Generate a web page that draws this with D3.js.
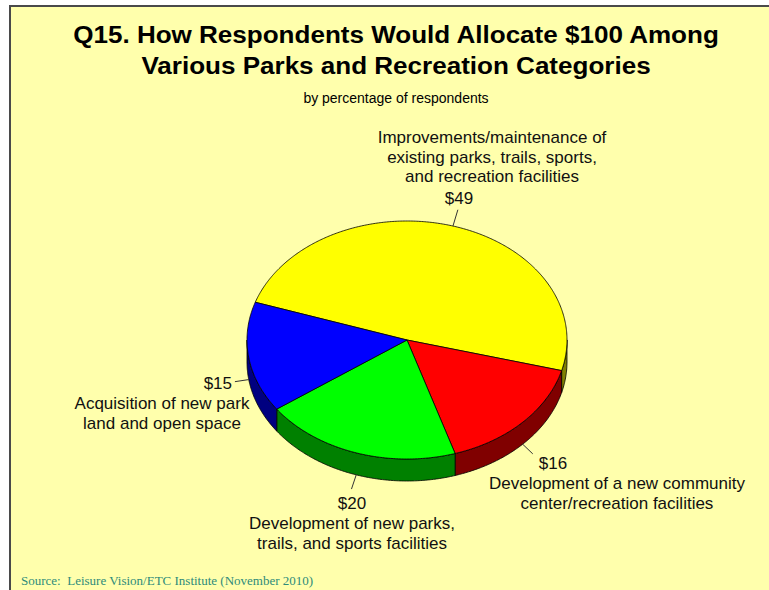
<!DOCTYPE html>
<html>
<head>
<meta charset="utf-8">
<script src="https://cdn.jsdelivr.net/npm/d3@7"></script>
<style>
  html, body { margin: 0; padding: 0; background: #ffffff; }
  svg { display: block; }
</style>
</head>
<body>
<svg id="chart" width="769" height="590"></svg>
<script>
// Allocation of a hypothetical $100 across four spending categories
const categories = [
  "Improvements/maintenance of existing parks, trails, sports, and recreation facilities",
  "Development of a new community center/recreation facilities",
  "Development of new parks, trails, and sports facilities",
  "Acquisition of new park land and open space"
];
const values = [49, 16, 20, 15];
const valueLabels = ["$49", "$16", "$20", "$15"];
const labelLines = [
  ["Improvements/maintenance of", "existing parks, trails, sports,", "and recreation facilities"],
  ["Development of a new community", "center/recreation facilities"],
  ["Development of new parks,", "trails, and sports facilities"],
  ["Acquisition of new park", "land and open space"]
];
const topColors  = ["#ffff00", "#ff0000", "#00ff00", "#0000ff"];
const sideColors = ["#808000", "#800000", "#008000", "#000080"];

const svg = d3.select("#chart");
const W = 769, H = 590;
const BG = "#ffffac";

// frame
svg.append("rect").attr("x", 10).attr("y", 6).attr("width", W + 20).attr("height", H + 20)
  .attr("fill", BG).attr("stroke", "#4a4a4a").attr("stroke-width", 2);

// titles (slightly widened face)
const titleFont = "'Liberation Sans', Arial, sans-serif";
const titleCx = 396;
const gTitle = svg.append("g")
  .attr("transform", `translate(${titleCx},0) scale(1.085,1)`);
gTitle.append("text").attr("x", 0).attr("y", 43).attr("text-anchor", "middle")
  .attr("font-family", titleFont).attr("font-weight", "bold").attr("font-size", 24)
  .attr("fill", "#000").text("Q15. How Respondents Would Allocate $100 Among");
gTitle.append("text").attr("x", 0).attr("y", 74).attr("text-anchor", "middle")
  .attr("font-family", titleFont).attr("font-weight", "bold").attr("font-size", 24)
  .attr("fill", "#000").text("Various Parks and Recreation Categories");
svg.append("text").attr("x", titleCx).attr("y", 103).attr("text-anchor", "middle")
  .attr("font-family", titleFont).attr("font-size", 14)
  .attr("fill", "#000").text("by percentage of respondents");

// 3D pie geometry
const cx = 407, cy = 340, rx = 160, ry = 119, depth = 22;
const startDeg = 198.5; // screen angle (0 = right, clockwise) where the first slice begins
const pie = d3.pie().sort(null).value(d => d)
  .startAngle(startDeg * Math.PI / 180).endAngle(startDeg * Math.PI / 180 + 2 * Math.PI);
const arcs = pie(values);

const px = (t, dr = 0) => cx + (rx + dr) * Math.cos(t);
const py = (t, dr = 0, dz = 0) => cy + (ry + dr) * Math.sin(t) + dz;
const line = d3.line();

function ellipsePts(a0, a1, dz) {
  const n = Math.max(2, Math.ceil(Math.abs(a1 - a0) / 0.01));
  return d3.range(n + 1).map(i => {
    const t = a0 + (a1 - a0) * i / n;
    return [px(t), py(t, 0, dz)];
  });
}

const gSides = svg.append("g");
const gTops = svg.append("g");

// outer walls: only the part facing the viewer (angle in (0, PI) modulo 2PI)
arcs.forEach((a, i) => {
  for (let k = -1; k <= 1; k++) {
    const lo = Math.max(a.startAngle, k * 2 * Math.PI);
    const hi = Math.min(a.endAngle, k * 2 * Math.PI + Math.PI);
    if (hi > lo) {
      const top = ellipsePts(lo, hi, 0);
      const bot = ellipsePts(hi, lo, depth);
      gSides.append("path").attr("d", line(top.concat(bot)) + "Z")
        .attr("fill", sideColors[i]).attr("stroke", "#000").attr("stroke-width", 0.8)
        .attr("stroke-linejoin", "round");
    }
  }
});

// top faces
arcs.forEach((a, i) => {
  const pts = [[cx, cy]].concat(ellipsePts(a.startAngle, a.endAngle, 0));
  gTops.append("path").attr("d", line(pts) + "Z")
    .attr("fill", topColors[i]).attr("stroke", "#000").attr("stroke-width", 0.8)
    .attr("stroke-linejoin", "round");
});

// leader lines from each slice's mid angle
const labelFont = "'Liberation Sans', Arial, sans-serif";
const leaderLen = [17, 14, 15, 14];
arcs.forEach((a, i) => {
  const m = (a.startAngle + a.endAngle) / 2;
  const front = Math.sin(m) > 0 ? depth : 0;
  svg.append("line")
    .attr("x1", px(m)).attr("y1", py(m, 0, front))
    .attr("x2", px(m, leaderLen[i])).attr("y2", py(m, leaderLen[i], front))
    .attr("stroke", "#333").attr("stroke-width", 1);
});

// label blocks: value text + category lines
const labelLayout = [
  { vx: 459, vy: 204, vAnchor: "middle", tx: 492, ty: 143 },
  { vx: 553, vy: 469, vAnchor: "middle", tx: 617, ty: 489 },
  { vx: 352, vy: 509, vAnchor: "middle", tx: 352, ty: 529 },
  { vx: 232, vy: 389, vAnchor: "end",    tx: 162, ty: 409 }
];
const lh = 19.5;
labelLayout.forEach((L, i) => {
  svg.append("text").attr("x", L.vx).attr("y", L.vy).attr("text-anchor", L.vAnchor)
    .attr("font-family", labelFont).attr("font-size", 17).attr("fill", "#111")
    .text(valueLabels[i]);
  const t = svg.append("text").attr("x", L.tx).attr("y", L.ty).attr("text-anchor", "middle")
    .attr("font-family", labelFont).attr("font-size", 17).attr("fill", "#111");
  labelLines[i].forEach((s, j) => {
    t.append("tspan").attr("x", L.tx).attr("dy", j === 0 ? 0 : lh).text(s);
  });
});

// source note
svg.append("text").attr("x", 21).attr("y", 585)
  .attr("font-family", "'Liberation Serif', 'Times New Roman', serif").attr("font-size", 13)
  .attr("fill", "#2e8b7a").attr("xml:space", "preserve")
  .text("Source:  Leisure Vision/ETC Institute (November 2010)");
</script>
</body>
</html>
